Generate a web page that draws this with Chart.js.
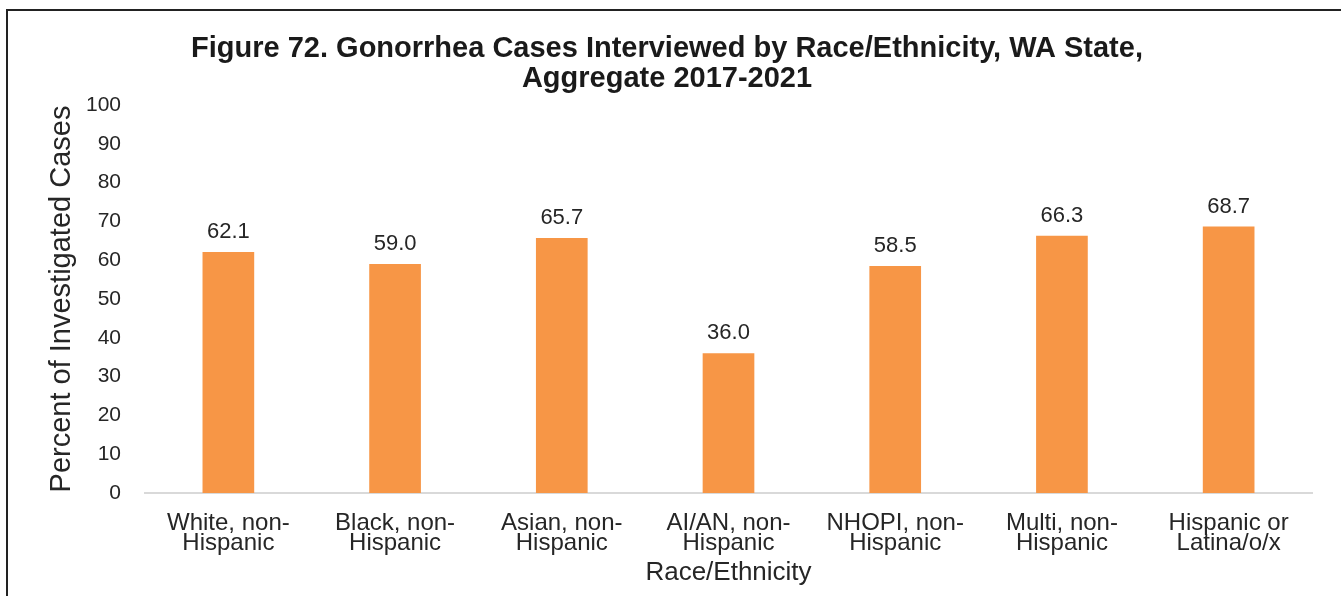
<!DOCTYPE html>
<html>
<head>
<meta charset="utf-8">
<script src="https://cdn.jsdelivr.net/npm/chart.js@4"></script>
<style>
  html, body { margin: 0; padding: 0; background: #fff; }
  body { width: 1341px; height: 596px; position: relative; overflow: hidden; }
  #frame {
    position: absolute; left: 6px; top: 9px; width: 1334px; height: 600px;
    border-left: 2px solid #222; border-top: 2px solid #222; border-right: 1px solid #e4e4e4;
  }
  #wrap { position: absolute; left: 8px; top: 11px; width: 1331px; height: 585px; }
</style>
</head>
<body>
<div id="frame"></div>
<div id="wrap"><canvas id="chart"></canvas></div>
<script>
// ── Data ──────────────────────────────────────────────────────────────────────

const categories = [
  ['White, non-', 'Hispanic'],
  ['Black, non-', 'Hispanic'],
  ['Asian, non-', 'Hispanic'],
  ['AI/AN, non-', 'Hispanic'],
  ['NHOPI, non-', 'Hispanic'],
  ['Multi, non-', 'Hispanic'],
  ['Hispanic or', 'Latina/o/x'],
];
const percentInterviewed = [62.1, 59.0, 65.7, 36.0, 58.5, 66.3, 68.7];
const titleLines = ['Figure 72. Gonorrhea Cases Interviewed by Race/Ethnicity, WA State,', 'Aggregate 2017-2021'];

const ORANGE = '#F79646';
const FONT = "'Liberation Sans', Arial, sans-serif";
const TEXT = '#262626';

// value labels above each bar
const barLabels = {
  id: 'barLabels',
  afterDatasetsDraw(chart) {
    const ctx = chart.ctx;
    const meta = chart.getDatasetMeta(0);
    ctx.save();
    ctx.font = `22px ${FONT}`;
    ctx.fillStyle = TEXT;
    ctx.textAlign = 'center';
    ctx.textBaseline = 'middle';
    meta.data.forEach((bar, i) => {
      ctx.fillText(percentInterviewed[i].toFixed(1), bar.x, bar.y - 20);
    });
    ctx.restore();
  }
};

new Chart(document.getElementById('chart'), {
  type: 'bar',
  data: {
    labels: categories,
    datasets: [{
      data: percentInterviewed,
      backgroundColor: ORANGE,
      borderWidth: 0,
      categoryPercentage: 1,
      barPercentage: 0.31,
    }]
  },
  options: {
    responsive: true,
    maintainAspectRatio: false,
    animation: false,
    layout: { padding: { left: 14, right: 27, top: 0, bottom: 0 } },
    plugins: {
      legend: { display: false },
      tooltip: { enabled: false },
      title: {
        display: true,
        text: titleLines,
        color: '#1a1a1a',
        font: { family: FONT, size: 29, weight: 'bold', lineHeight: 1.035 },
        padding: { top: 23, bottom: 11 },
      }
    },
    scales: {
      x: {
        afterFit(scale) { scale.height = 103; },
        grid: { display: false, drawTicks: false },
        border: { color: '#d9d9d9', width: 2 },
        ticks: {
          color: TEXT,
          font: { family: FONT, size: 24, lineHeight: 0.85 },
          padding: 20,
          maxRotation: 0,
          autoSkip: false,
        },
        title: {
          display: true,
          text: 'Race/Ethnicity',
          color: TEXT,
          font: { family: FONT, size: 26, lineHeight: 1.15 },
          padding: { top: 0, bottom: 8 },
        },
      },
      y: {
        min: 0,
        max: 100,
        afterFit(scale) { scale.width = 123; },
        grid: { display: false, drawTicks: false },
        border: { display: false },
        ticks: {
          stepSize: 10,
          color: TEXT,
          font: { family: FONT, size: 21 },
          padding: 24,
        },
        title: {
          display: true,
          text: 'Percent of Investigated Cases',
          color: TEXT,
          font: { family: FONT, size: 29 },
          padding: { top: 23, bottom: 0 },
        },
      }
    }
  },
  plugins: [barLabels]
});
</script>
</body>
</html>
